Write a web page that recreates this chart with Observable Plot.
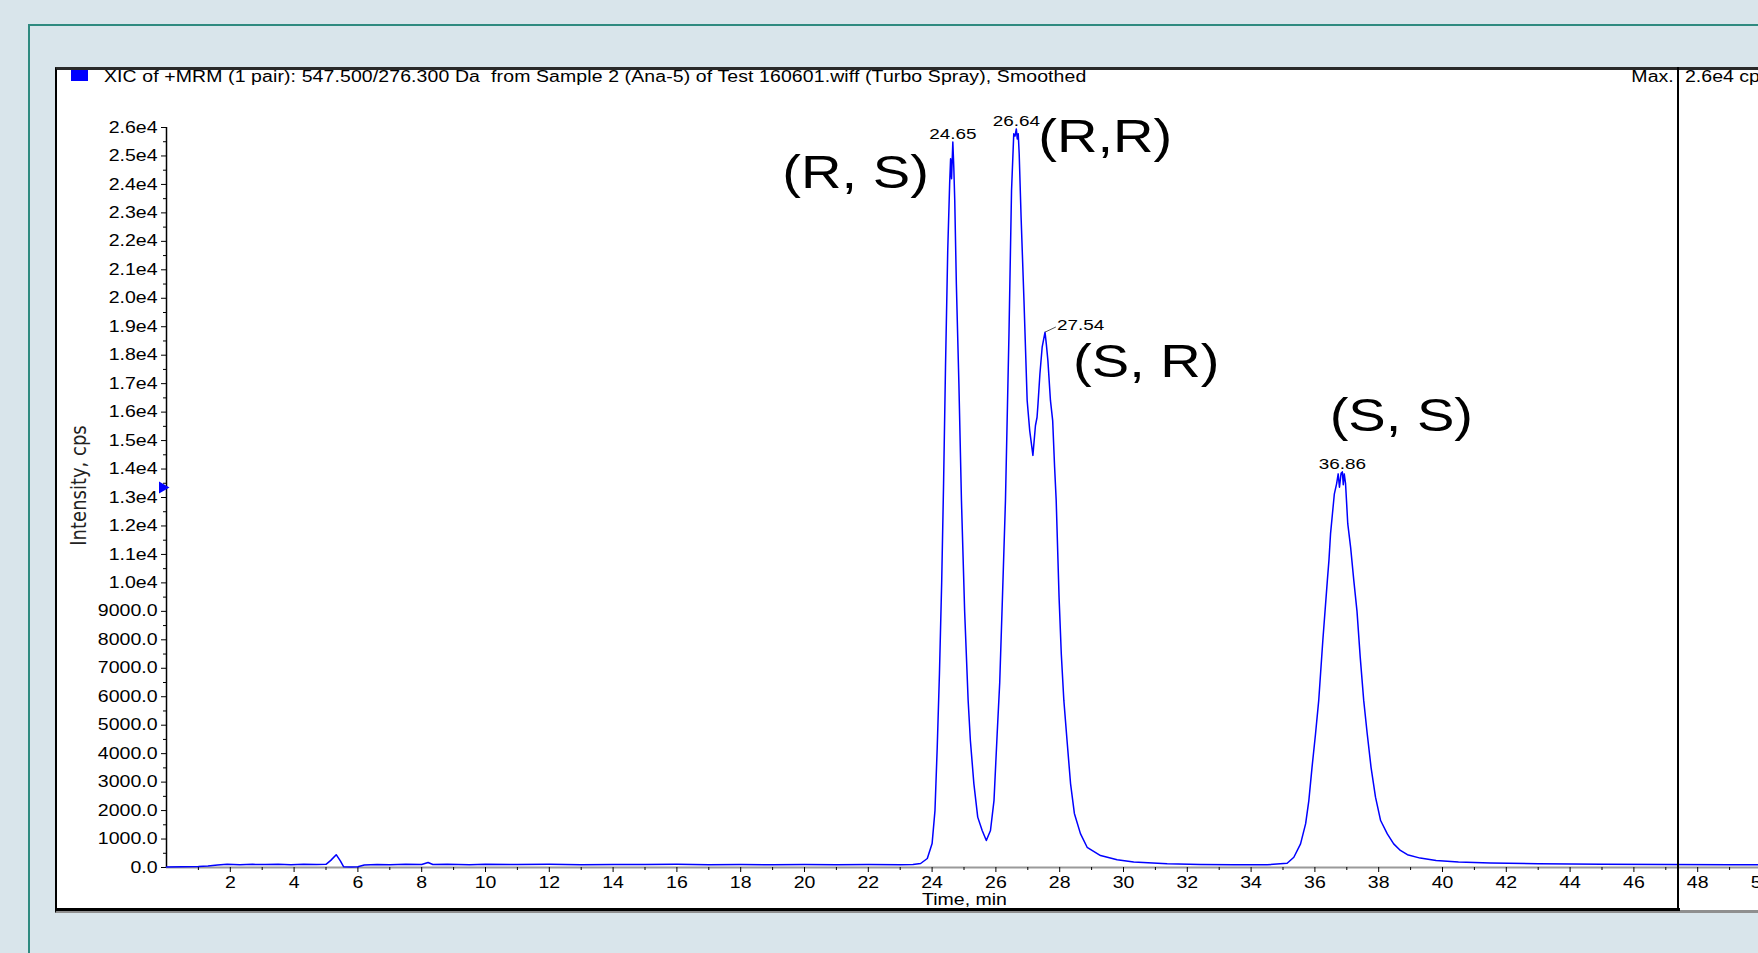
<!DOCTYPE html>
<html>
<head>
<meta charset="utf-8">
<script src="https://cdn.jsdelivr.net/npm/d3@7"></script>
<script src="https://cdn.jsdelivr.net/npm/@observablehq/plot@0.6"></script>
<style>
  html, body { margin: 0; padding: 0; }
  body { width: 1758px; height: 953px; overflow: hidden; background: #d9e5eb; position: relative;
         font-family: "Liberation Sans", Arial, sans-serif; color: #000; }
  #outer { position: absolute; left: 28px; top: 24px; width: 1800px; height: 1000px;
           border-left: 2px solid #2f8a80; border-top: 2px solid #2f8a80; }
  #panel { position: absolute; left: 55px; top: 67px; width: 1800px; height: 846px; box-sizing: border-box;
           background: #fff; border-left: 2px solid #000; border-top: 3px solid #2a2a2a; border-bottom: 3px solid #8f8f8f; }
  #bottomBar { position: absolute; left: 55px; top: 908px; width: 1625px; height: 3px; background: #000; z-index: 3; }
  #divider { position: absolute; left: 1677px; top: 67px; width: 2px; height: 844px; background: #000; z-index: 3; }
  #chart { position: absolute; left: 0; top: 0; z-index: 2; }
  .hdr { position: absolute; font-size: 16px; line-height: 18px; white-space: pre; z-index: 4; }
  #title { left: 104px; top: 68px; transform: scaleX(1.215); transform-origin: left center; letter-spacing: 0.1px; }
  #maxLbl { right: 84px; top: 68px; transform: scaleX(1.22); transform-origin: right center; }
  #maxVal { left: 1685px; top: 68px; transform: scaleX(1.22); transform-origin: left center; }
  #legendSwatch { position: absolute; left: 71px; top: 70px; width: 17px; height: 11px; background: #0000ff; z-index: 4; }
</style>
</head>
<body>
<div id="outer"></div>
<div id="panel"></div>
<div id="chart"></div>
<div id="bottomBar"></div>
<div id="divider"></div>
<div id="legendSwatch"></div>
<div class="hdr" id="title"></div>
<div class="hdr" id="maxLbl"></div>
<div class="hdr" id="maxVal"></div>
<script>
// ---------- data ----------
const titleText = "XIC of +MRM (1 pair): 547.500/276.300 Da  from Sample 2 (Ana-5) of Test 160601.wiff (Turbo Spray), Smoothed";
const maxLabel = "Max.";
const maxValue = "2.6e4 cps";
const xLabel = "Time, min";
const yLabel = "Intensity, cps";

const times = [0,0.5,1.0,1.3,1.6,1.9,2.3,2.7,3.1,3.5,
  3.9,4.3,4.7,5.0,5.15,5.32,5.45,5.55,5.8,6.0,
  6.2,6.6,7.0,7.5,8.0,8.2,8.35,8.8,9.5,10,
  11,12,13,14,15,16,17,18,19,20,
  21,22,23,23.4,23.64,23.85,24.0,24.09,24.16,24.23,
  24.3,24.36,24.42,24.49,24.55,24.58,24.61,24.65,24.68,24.71,
  24.76,24.84,24.92,25.02,25.13,25.2,25.31,25.43,25.57,25.7,
  25.83,25.94,26.04,26.12,26.2,26.3,26.41,26.49,26.56,26.6,
  26.64,26.67,26.7,26.73,26.79,26.88,26.98,27.06,27.16,27.24,
  27.29,27.32,27.38,27.45,27.54,27.58,27.63,27.71,27.78,27.84,
  27.89,27.98,28.05,28.13,28.23,28.34,28.46,28.65,28.86,29.28,
  29.8,30.32,31.37,32.41,33.45,34.5,35.13,35.34,35.55,35.71,
  35.81,35.91,36.02,36.12,36.25,36.39,36.44,36.49,36.55,36.61,
  36.68,36.73,36.77,36.82,36.86,36.89,36.92,36.96,36.99,37.03,
  37.12,37.22,37.32,37.42,37.53,37.64,37.76,37.9,38.06,38.27,
  38.47,38.68,38.9,39.3,39.8,40.5,41.5,43,45,47,
  49,50.5];

const intensity = [20,25,35,50,90,110,100,110,105,112,
  100,110,105,110,250,450,230,30,15,25,
  90,105,100,110,105,175,105,110,100,110,
  105,110,100,108,102,110,100,105,98,105,
  100,102,100,105,140,316,840,2000,4200,6800,
  10000,13500,17580,21680,24020,24900,24200,25490,24600,23440,
  20520,17000,12900,9000,5870,4460,2940,1770,1300,950,
  1300,2350,4700,6500,9300,12900,18760,23790,25780,25700,
  25950,25600,25780,25080,22850,19920,16410,15350,14480,15530,
  15820,16290,17350,18280,18810,18400,17810,16410,15700,14070,
  12900,9500,7500,5870,4460,2950,1900,1190,710,420,
  270,190,130,105,95,95,150,360,830,1540,
  2350,3520,4700,5870,8000,10080,10790,11720,12430,13130,
  13480,13830,13360,13850,13900,13450,13830,13500,12900,12080,
  11250,10080,9000,7400,5870,4700,3520,2470,1650,1180,
  830,600,450,330,250,190,160,130,115,105,
  100,100];

const peakTimes   = [24.65, 26.64, 27.54, 36.86];
const peakHeights = [25490, 25950, 18810, 13900];
const peakLabels  = ["24.65", "26.64", "27.54", "36.86"];
const isomerLabels = ["(R, S)", "(R,R)", "(S, R)", "(S, S)"];

const markerLevel = 13350; // blue threshold arrow on the intensity axis

const xMajorTicks = [2,4,6,8,10,12,14,16,18,20,22,24,26,28,30,32,34,36,38,40,42,44,46,48,50];
const xMinorTicks = [1,3,5,7,9,11,13,15,17,19,21,23,25,27,29,31,33,35,37,39,41,43,45,47,49];
const yMajorTicks = [0,1000,2000,3000,4000,5000,6000,7000,8000,9000,10000,11000,12000,13000,
  14000,15000,16000,17000,18000,19000,20000,21000,22000,23000,24000,25000,26000];
const yTickLabels = ["0.0","1000.0","2000.0","3000.0","4000.0","5000.0","6000.0","7000.0","8000.0","9000.0",
  "1.0e4","1.1e4","1.2e4","1.3e4","1.4e4","1.5e4","1.6e4","1.7e4","1.8e4","1.9e4","2.0e4",
  "2.1e4","2.2e4","2.3e4","2.4e4","2.5e4","2.6e4"];
const yMinorTicks = [500,1500,2500,3500,4500,5500,6500,7500,8500,9500,10500,11500,12500,13500,
  14500,15500,16500,17500,18500,19500,20500,21500,22500,23500,24500,25500];

// ---------- build ----------
const n = Math.min(times.length, intensity.length);
const trace = d3.range(n).map(i => ({t: times[i], v: intensity[i]}));
const peaks = peakTimes.map((t, i) => ({t, v: peakHeights[i], label: peakLabels[i], iso: isomerLabels[i]}));
const yLabelOf = new Map(yMajorTicks.map((d, i) => [d, yTickLabels[i]]));

document.getElementById("title").textContent = titleText;
document.getElementById("maxLbl").textContent = maxLabel;
document.getElementById("maxVal").textContent = maxValue;

const W = 1758, H = 953, mLeft = 166, mTop = 127, mBottom = 86;
const pxPerMin = 31.9;
const font = '"Liberation Sans", Arial, sans-serif';

const isoMark = (i, opts) => Plot.text([peaks[i]], {x: "t", y: "v", text: "iso", fontSize: 46,
  fontFamily: font, lineAnchor: "bottom", ...opts});

const svg = Plot.plot({
  width: W, height: H,
  marginLeft: mLeft, marginRight: 0, marginTop: mTop, marginBottom: mBottom,
  style: {background: "transparent", maxWidth: "none", overflow: "visible", fontFamily: font, fontSize: "16px", color: "#000"},
  x: {domain: [0, (W - mLeft) / pxPerMin]},
  y: {domain: [0, 26000]},
  marks: [
    Plot.ruleY([0], {stroke: "#9a9a9a", strokeWidth: 2}),
    Plot.axisX({ticks: xMinorTicks, tickSize: 3, tickFormat: () => "", label: null}),
    Plot.axisX({ticks: xMajorTicks, tickSize: 5, tickPadding: 4, fontSize: 16, tickFormat: d => String(d), label: null}),
    Plot.axisY({ticks: yMinorTicks, tickSize: 3, tickFormat: () => "", label: null}),
    Plot.axisY({ticks: yMajorTicks, tickSize: 5, tickPadding: 4, fontSize: 16, tickFormat: d => yLabelOf.get(d), label: null}),
    Plot.ruleX([0], {y1: 0, y2: 26000, stroke: "#000", strokeWidth: 1.5}),
    Plot.line(trace, {x: "t", y: "v", stroke: "#0000ff", strokeWidth: 1.5}),
    Plot.dot([{t: 0, v: markerLevel}], {x: "t", y: "v", symbol: "triangle", rotate: 90, r: 4.5, fill: "#0000ff", stroke: null, dx: -4}),
    // peak apex labels
    Plot.text(peaks.filter((d, i) => i !== 2), {x: "t", y: "v", text: "label", fontSize: 15.5, lineAnchor: "bottom", dy: -3}),
    Plot.link([peaks[2]], {x1: "t", y1: "v", x2: d => d.t + 0.34, y2: d => d.v + 180, stroke: "#555", strokeWidth: 1}),
    Plot.text([peaks[2]], {x: "t", y: "v", text: "label", fontSize: 15.5, lineAnchor: "bottom", textAnchor: "start", dx: 12, dy: -2}),
    // stereo-isomer labels
    isoMark(0, {textAnchor: "end", dx: -24, dy: 46}),
    isoMark(1, {textAnchor: "start", dx: 22, dy: 23}),
    isoMark(2, {textAnchor: "start", dx: 28, dy: 45}),
    isoMark(3, {textAnchor: "middle", dx: 59, dy: -41}),
    // axis titles
    Plot.text([xLabel], {frameAnchor: "bottom", dy: 37, dx: 2, lineAnchor: "bottom", fontSize: 16}),
    Plot.text([yLabel], {frameAnchor: "left", textAnchor: "middle", dx: -88, dy: -12, rotate: -90, fontSize: 18,
      fontFamily: '"DejaVu Sans", sans-serif', fill: "#222"})
  ]
});

// the reference rendering is horizontally stretched: widen glyphs around their anchor
svg.querySelectorAll("text").forEach(el => {
  const tr = el.getAttribute("transform");
  if (tr && /translate\(/.test(tr)) el.setAttribute("transform", tr.replace(/(translate\([^)]*\))/, "$1 scale(1.22,1)"));
});

document.getElementById("chart").appendChild(svg);
</script>
</body>
</html>
